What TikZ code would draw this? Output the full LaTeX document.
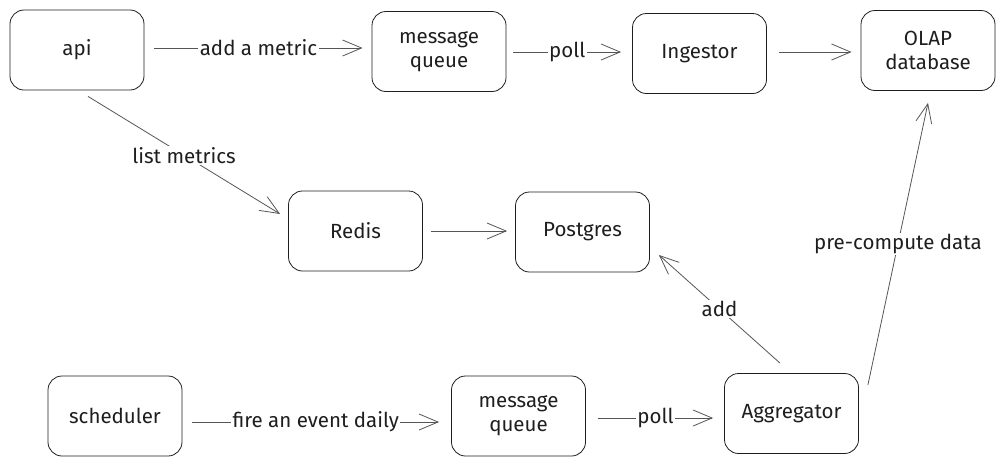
\documentclass[tikz,border=0pt]{standalone}
\usepackage{fontspec}
\setmainfont{Fira Sans}
\usetikzlibrary{arrows.meta, positioning}
\tikzstyle{box} = [draw=inkcolor, line width=0.8pt, rounded corners=14pt, minimum width=134pt, minimum height=80pt, align=center, text=inkcolor, font=\fontsize{20.5}{24}\selectfont]
\tikzstyle{link} = [draw=linkcolor, line width=0.8pt, -{Straight Barb[length=19pt, width=16pt, line width=0.8pt]}]
\tikzstyle{tag} = [midway, fill=white, inner sep=1.5pt, text=inkcolor, font=\fontsize{20.5}{22}\selectfont]
\definecolor{inkcolor}{RGB}{30,30,30}
\definecolor{linkcolor}{RGB}{85,85,85}
\begin{document}
\begin{tikzpicture}[x=1pt, y=-1pt]
\useasboundingbox (0,0) rectangle (1005,467);

% Top row: ingestion path
\node[box] (api) at (77,50) {api};
\node[box] (mqtop) at (439,51.5) {message\\queue};
\node[box] (ingestor) at (699.5,53.5) {Ingestor};
\node[box] (olap) at (928,50.5) {OLAP\\database};

% Middle row: metric listing
\node[box] (redis) at (355.5,231) {Redis};
\node[box] (postgres) at (582.5,232) {Postgres};

% Bottom row: daily aggregation
\node[box] (scheduler) at (115,416) {scheduler};
\node[box] (mqbottom) at (518.5,416) {message\\queue};
\node[box] (aggregator) at (791.5,413.5) {Aggregator};

% Connectors
\draw[link] ([shift={(10,-2)}]api.east) -- ([shift={(-9,-3.5)}]mqtop.west) node[tag] {add a metric};
\draw[link] ([shift={(7,0.5)}]mqtop.east) -- ([shift={(-11,-1.5)}]ingestor.west) node[tag] {poll};
\draw[link] ([shift={(12,-1.5)}]ingestor.east) -- ([shift={(-9,1.5)}]olap.west);
\draw[link] ([shift={(11,6)}]api.south) -- ([shift={(-8,-17)}]redis.west) node[tag] {list metrics};
\draw[link] ([shift={(8,0)}]redis.east) -- ([shift={(-8,-1)}]postgres.west);
\draw[link] ([shift={(-11.5,-10)}]aggregator.north) -- ([shift={(9,23)}]postgres.east) node[tag] {add};
\draw[link] ([shift={(9,-28.5)}]aggregator.east) -- ([shift={(0,12)}]olap.south) node[tag] {pre-compute data};
\draw[link] ([shift={(10,6)}]scheduler.east) -- ([shift={(-12,6)}]mqbottom.west) node[tag] {fire an event daily};
\draw[link] ([shift={(12,2)}]mqbottom.east) -- ([shift={(-11,4.5)}]aggregator.west) node[tag] {poll};

\end{tikzpicture}
\end{document}
